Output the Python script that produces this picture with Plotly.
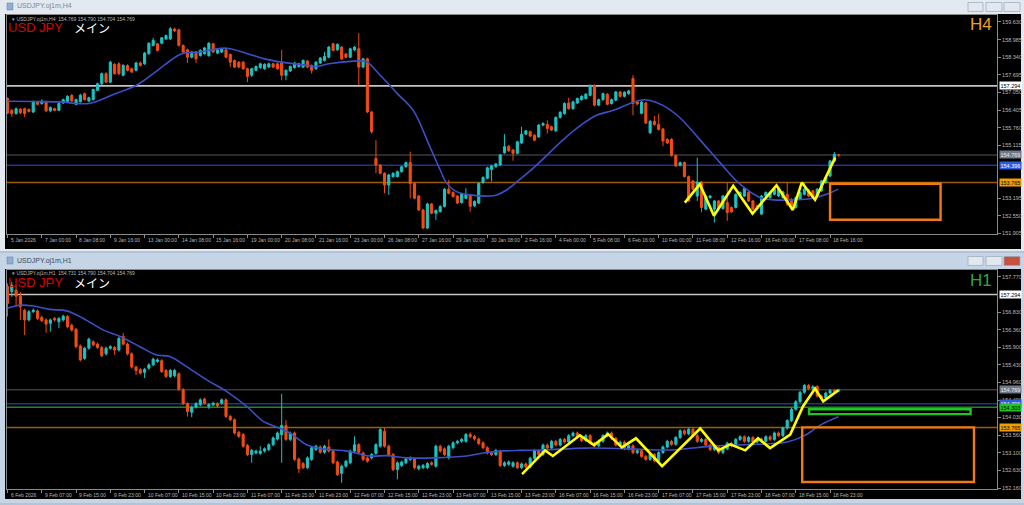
import plotly.graph_objects as go

W, H = 1024, 505

# ---------------- H4 (top window) candles ----------------
h4_open = [156.83,156.40,156.28,156.44,156.46,156.43,156.34,156.71,156.65,156.71,
156.38,156.46,156.40,156.67,156.71,156.95,156.62,156.71,157.01,156.74,
156.79,157.13,157.37,157.74,157.43,158.08,158.10,157.68,158.04,157.92,
157.86,158.13,158.10,158.47,158.77,158.83,158.85,159.01,159.01,159.37,
159.34,158.77,158.61,158.34,158.53,158.40,158.47,158.40,158.83,158.49,
158.53,158.61,158.44,158.22,158.16,158.16,157.92,157.68,157.86,157.96,
157.92,157.98,158.10,158.10,158.13,157.68,157.84,157.96,158.00,157.98,
158.20,158.04,157.92,158.13,158.22,158.34,158.83,158.61,158.71,158.46,
158.34,158.61,158.65,157.98,158.28,156.34,154.64,154.40,154.10,153.67,
153.98,153.98,154.16,154.34,154.49,153.73,153.27,152.76,152.10,152.98,
152.64,152.70,152.89,153.52,153.40,153.27,153.03,153.19,153.31,152.91,
153.01,153.76,153.92,154.24,154.34,154.40,154.85,155.09,154.95,154.83,
155.21,155.53,155.62,155.49,155.43,155.86,155.88,155.80,155.65,156.14,
156.28,156.67,156.46,156.67,156.79,156.83,156.95,157.31,156.59,156.79,
156.99,156.65,156.77,157.07,156.91,157.01,157.56,156.71,156.29,156.67,
155.58,156.00,155.88,155.72,155.34,155.34,154.75,154.39,154.49,153.98,
153.82,153.27,153.78,152.79,153.21,152.79,153.09,152.81,153.03,152.85,
152.85,153.30,153.27,153.40,153.09,152.91,152.61,153.27,153.21,153.33,
153.27,153.21,153.33,153.15,152.85,153.15,153.33,153.49,153.46,153.27,
153.46,153.76,154.00,154.55,154.769]
h4_high = [156.87,156.45,156.50,156.48,156.50,156.47,156.76,156.74,156.80,156.75,
156.54,156.50,156.69,156.83,156.95,156.99,156.83,157.00,157.05,156.90,
157.19,157.41,157.78,157.79,158.21,158.13,158.16,158.09,158.08,157.96,
158.17,158.18,158.53,158.89,159.05,158.87,159.08,159.17,159.44,159.42,
159.38,158.81,158.65,158.57,158.57,158.63,158.72,158.89,158.87,158.65,
158.69,158.65,158.48,158.26,158.20,158.20,157.96,157.96,158.04,158.14,
158.12,158.14,158.14,158.14,158.61,157.90,158.04,158.17,158.14,158.26,
158.24,158.08,158.20,158.35,158.53,158.75,158.87,158.85,158.75,158.50,
158.69,158.75,159.22,158.32,158.32,156.38,155.31,154.44,154.14,154.08,
154.14,154.20,154.38,154.53,154.89,153.77,153.31,152.80,153.02,153.02,
152.78,152.93,153.56,153.86,153.44,153.31,153.39,153.55,153.35,153.11,
153.77,153.99,154.34,154.41,154.48,154.81,155.53,155.13,154.99,155.29,
155.80,155.69,155.66,155.53,155.90,155.96,156.04,155.84,156.18,156.37,
156.69,156.86,156.75,156.87,156.95,157.03,157.35,157.35,156.83,157.05,
157.03,156.83,157.11,157.11,157.10,157.15,157.68,156.75,156.74,156.71,
156.04,156.19,156.28,155.76,155.38,155.38,154.79,154.53,154.53,154.02,
153.86,154.67,153.82,153.31,153.31,153.13,153.13,153.31,153.76,152.89,
153.37,153.44,153.58,153.44,153.13,152.95,153.31,153.44,153.44,153.56,
153.56,153.46,153.76,153.19,153.25,153.44,153.76,153.53,153.50,153.56,
153.86,153.98,154.59,154.88,154.790]
h4_low = [156.26,156.16,156.24,156.26,156.16,156.32,156.30,156.58,156.60,156.34,
156.33,156.36,156.37,156.63,156.68,156.70,156.58,156.68,156.76,156.70,
156.76,157.10,157.33,157.40,157.39,157.70,157.68,157.64,157.82,157.76,
157.82,158.00,158.06,158.43,158.73,158.55,158.81,158.97,158.97,159.26,
158.73,158.49,158.13,158.30,158.13,158.36,158.43,158.36,158.49,158.45,
158.49,158.30,157.98,157.94,157.94,157.88,157.43,157.62,157.82,157.92,
157.88,157.94,157.94,157.88,157.50,157.50,157.80,157.92,157.96,157.94,
157.94,157.74,157.88,158.09,158.18,158.30,158.55,158.57,158.24,158.30,
158.30,158.57,157.31,157.94,156.30,155.55,154.10,154.06,153.37,153.31,
153.94,153.94,154.12,154.30,153.19,153.15,152.72,152.06,152.06,152.60,
152.40,152.66,152.85,153.33,153.21,152.97,152.99,153.15,152.70,152.87,
152.97,153.72,153.88,153.80,154.30,154.36,154.81,154.88,154.56,154.79,
155.17,155.49,155.42,155.27,155.39,155.82,155.55,155.64,155.61,156.10,
156.24,156.42,156.42,156.63,156.75,156.79,156.91,156.55,156.55,156.75,
156.58,156.61,156.73,156.87,156.87,156.97,156.22,156.59,156.25,155.90,
155.54,155.84,155.66,155.09,155.17,154.71,154.33,154.35,153.94,153.05,
153.48,153.09,152.67,152.75,153.17,152.30,152.81,152.77,152.36,152.65,
152.81,153.26,153.23,153.05,152.75,152.77,152.57,153.23,153.17,153.29,
153.23,153.17,152.91,152.87,152.81,153.11,153.29,153.23,153.17,153.23,
153.42,153.72,153.96,154.51,154.704]
h4_close = [156.30,156.28,156.46,156.31,156.28,156.36,156.71,156.62,156.74,156.38,
156.50,156.40,156.65,156.79,156.91,156.74,156.79,156.95,156.79,156.86,
157.16,157.37,157.74,157.43,158.16,157.74,157.74,158.04,157.86,157.80,
158.13,158.04,158.49,158.85,158.95,158.59,159.05,159.13,159.38,159.30,
158.77,158.53,158.34,158.53,158.28,158.59,158.68,158.85,158.53,158.61,
158.65,158.34,158.16,157.98,157.98,157.92,157.64,157.92,158.00,158.10,
158.08,158.10,157.98,157.92,157.68,157.86,158.00,158.13,158.10,158.22,
157.98,157.86,158.16,158.31,158.37,158.71,158.59,158.81,158.28,158.34,
158.65,158.71,157.98,158.28,156.34,155.62,154.40,154.10,153.67,154.04,
154.10,154.16,154.34,154.49,153.73,153.19,152.76,152.10,152.98,152.64,
152.74,152.89,153.52,153.37,153.25,153.01,153.35,153.31,152.89,153.07,
153.73,153.95,154.30,154.37,154.44,154.77,155.07,154.92,154.83,155.25,
155.53,155.65,155.46,155.31,155.86,155.92,155.74,155.68,156.14,156.33,
156.65,156.46,156.71,156.83,156.91,156.99,157.31,156.59,156.79,157.01,
156.62,156.79,157.07,156.91,157.06,157.11,156.65,156.63,156.70,155.94,
156.00,155.88,155.70,155.28,155.21,154.75,154.37,154.49,153.98,153.09,
153.52,153.78,152.85,153.27,153.27,153.09,152.85,153.27,152.67,152.69,
153.33,153.40,153.54,153.09,152.79,152.81,153.27,153.40,153.40,153.52,
153.52,153.42,152.97,152.91,153.21,153.40,153.52,153.27,153.21,153.52,
153.82,153.94,154.55,154.79,154.769]

h4_ma_idx = [0,6,12,19,25,30,34,37,40.7,45,51,56,60,64,70,72,75,80,83,84,87,91,94.7,
             98.6,101,102.5,104.8,108,112.6,114.2,116.5,119,123.5,129.8,134.4,137.5,141.4,
             145.3,148,150,153,157,161.6,166.3,171,175.7,178.8,183.4,188.1,191.2,193.9]
h4_ma_val = [156.73,156.72,156.71,156.65,157.00,157.31,157.74,158.10,158.47,158.53,158.67,
             158.47,158.28,158.16,158.04,158.00,158.10,158.19,158.20,158.16,157.68,157.01,
             156.40,155.07,154.22,153.74,153.43,153.31,153.27,153.31,153.49,153.80,154.40,
             155.34,155.92,156.22,156.40,156.65,156.78,156.76,156.58,156.12,155.33,154.49,
             153.70,153.21,153.13,153.13,153.19,153.33,153.52]

h4_zig_idx = [158.1,161.6,164.9,169.4,173.9,179.5,183.3,185.4,188.5,193.2]
h4_zig_val = [153.03,153.70,152.55,153.64,152.63,153.66,152.76,153.76,153.13,154.67]

h4_box = dict(i0=192.0, i1=217.8, p0=152.40, p1=153.72)

h4_tick_vals = [159.630,158.985,158.340,157.695,157.050,156.405,155.760,155.115,153.195,152.550,151.905]
h4_time_labels = ["5 Jan 2026","7 Jan 00:00","8 Jan 08:00","9 Jan 16:00","13 Jan 00:00","14 Jan 08:00",
                  "15 Jan 16:00","19 Jan 00:00","20 Jan 08:00","21 Jan 16:00","23 Jan 00:00","26 Jan 08:00",
                  "27 Jan 16:00","29 Jan 00:00","30 Jan 08:00","2 Feb 16:00","4 Feb 00:00","5 Feb 08:00",
                  "6 Feb 16:00","10 Feb 00:00","11 Feb 08:00","12 Feb 16:00","16 Feb 00:00","17 Feb 08:00",
                  "18 Feb 16:00"]

# ---------------- H1 (bottom window) candles ----------------
h1_open = [157.51,157.37,157.41,157.25,156.88,156.62,156.84,156.86,156.69,156.62,
156.53,156.66,156.57,156.62,156.71,156.48,156.37,155.93,155.60,155.87,
156.04,155.98,155.89,155.72,155.87,155.89,155.82,156.18,155.98,155.72,
155.37,155.30,155.23,155.34,155.43,155.52,155.54,155.28,155.12,155.14,
155.19,154.77,154.40,154.17,154.31,154.37,154.52,154.33,154.37,154.40,
154.41,154.50,154.06,153.97,153.64,153.58,153.29,153.05,153.09,153.08,
153.14,153.18,153.31,153.46,153.58,153.82,153.45,153.62,152.93,152.81,
152.70,152.92,153.18,153.25,153.11,153.25,153.14,152.85,152.55,152.74,
152.83,153.14,153.31,153.09,152.96,152.96,153.08,153.27,153.66,153.27,
153.05,152.65,152.76,152.83,152.92,152.93,152.67,152.70,152.70,152.83,
152.74,153.27,153.20,152.96,153.23,153.36,153.40,153.40,153.58,153.53,
153.46,153.36,153.23,153.09,153.05,153.14,152.76,152.79,152.74,152.83,
152.70,152.80,152.72,152.95,153.15,153.05,153.30,153.22,153.40,153.30,
153.45,153.38,153.55,153.62,153.50,153.42,153.55,153.35,153.28,153.40,
153.55,153.62,153.48,153.30,153.38,153.20,153.28,153.10,153.15,153.00,
152.92,153.05,152.88,153.10,153.25,153.40,153.32,153.50,153.68,153.60,
153.72,153.55,153.40,153.45,153.30,153.18,153.25,153.10,153.20,153.35,
153.28,153.45,153.52,153.40,153.50,153.38,153.46,153.40,153.52,153.45,
153.62,153.55,153.75,153.95,154.25,154.45,154.70,154.88,154.80,154.85,
154.60,154.55,154.68,154.75,154.731]
h1_high = [157.59,157.63,157.54,157.36,156.92,156.88,156.92,156.90,156.73,156.66,
156.66,156.70,156.70,156.76,156.75,156.52,156.41,155.97,155.91,156.15,
156.08,156.02,155.93,155.91,155.95,155.93,156.17,156.28,156.02,155.76,
155.41,155.34,155.35,155.47,155.62,155.60,155.58,155.32,155.32,155.32,
155.23,154.81,154.44,154.35,154.44,154.54,154.56,154.41,154.45,154.44,
154.54,154.54,154.10,154.01,153.68,153.62,153.33,153.20,153.18,153.27,
153.24,153.35,153.53,153.66,154.66,153.96,153.66,153.66,152.97,152.85,
153.00,153.27,153.31,153.29,153.31,153.45,153.18,152.89,152.78,152.91,
153.18,153.53,153.35,153.13,153.00,153.09,153.35,153.75,153.75,153.31,
153.09,152.87,152.89,152.97,153.00,152.97,152.78,152.80,152.85,152.87,
153.31,153.31,153.24,153.31,153.40,153.44,153.49,153.62,153.64,153.57,
153.50,153.40,153.27,153.13,153.20,153.18,152.87,152.89,152.87,152.87,
152.84,152.84,152.99,153.19,153.19,153.34,153.34,153.44,153.44,153.49,
153.49,153.59,153.66,153.66,153.54,153.59,153.59,153.39,153.44,153.59,
153.66,153.66,153.52,153.42,153.42,153.32,153.32,153.19,153.19,153.04,
153.09,153.09,153.14,153.29,153.44,153.44,153.54,153.72,153.72,153.76,
153.76,153.59,153.49,153.49,153.34,153.29,153.29,153.24,153.39,153.39,
153.49,153.56,153.56,153.54,153.54,153.50,153.50,153.56,153.56,153.66,
153.66,153.79,153.99,154.29,154.49,154.74,154.92,154.92,154.89,154.89,
154.64,154.72,154.79,154.79,154.790]
h1_low = [156.71,157.23,156.97,156.62,156.22,156.58,156.80,156.62,156.56,156.28,
156.31,156.58,156.40,156.58,156.40,156.31,155.87,155.52,155.56,155.83,
155.92,155.85,155.63,155.68,155.83,155.69,155.78,155.94,155.68,155.33,
155.16,155.17,155.08,155.30,155.39,155.48,155.21,155.08,155.08,155.10,
154.74,154.36,154.06,154.04,154.27,154.33,154.37,154.26,154.33,154.30,
154.37,154.02,153.93,153.58,153.49,153.23,153.01,152.83,153.05,153.04,
153.10,153.14,153.27,153.42,152.83,153.41,153.41,152.88,152.56,152.66,
152.66,152.88,153.14,153.07,153.07,153.10,152.79,152.48,152.30,152.70,
152.79,153.10,153.07,152.88,152.83,152.92,153.04,153.23,153.23,153.01,
152.61,152.39,152.72,152.79,152.88,152.66,152.63,152.66,152.66,152.75,
152.70,153.10,153.01,152.92,153.19,153.32,153.36,153.36,153.48,153.42,
153.30,153.19,153.05,153.01,153.01,152.72,152.72,152.75,152.70,152.66,
152.66,152.68,152.68,152.91,153.01,153.01,153.18,153.18,153.26,153.26,
153.34,153.34,153.51,153.46,153.38,153.38,153.31,153.24,153.24,153.36,
153.51,153.44,153.26,153.26,153.16,153.16,153.06,153.06,152.96,152.88,
152.88,152.84,152.84,153.06,153.21,153.28,153.28,153.46,153.56,153.56,
153.51,153.36,153.36,153.26,153.14,153.14,153.06,153.06,153.16,153.24,
153.24,153.41,153.36,153.36,153.34,153.34,153.36,153.36,153.41,153.41,
153.51,153.51,153.71,153.91,154.21,154.41,154.66,154.76,154.76,154.56,
154.51,154.51,154.64,154.69,154.704]
h1_close = [157.06,157.54,157.25,156.97,156.62,156.84,156.88,156.66,156.60,156.51,
156.62,156.62,156.66,156.72,156.44,156.35,155.91,155.56,155.87,156.11,
155.96,155.89,155.67,155.87,155.91,155.82,156.13,155.98,155.72,155.37,
155.28,155.21,155.31,155.43,155.58,155.56,155.25,155.12,155.28,155.28,
154.78,154.40,154.19,154.31,154.40,154.50,154.41,154.37,154.41,154.34,
154.50,154.06,153.97,153.62,153.53,153.27,153.05,153.16,153.14,153.14,
153.20,153.31,153.49,153.62,153.82,153.45,153.62,152.92,152.67,152.70,
152.96,153.23,153.27,153.11,153.27,153.14,152.83,152.52,152.74,152.87,
153.14,153.31,153.11,152.92,152.87,153.05,153.31,153.71,153.27,153.05,
152.65,152.83,152.85,152.93,152.96,152.70,152.74,152.76,152.81,152.79,
153.27,153.14,153.05,153.27,153.36,153.40,153.45,153.58,153.52,153.46,
153.34,153.23,153.09,153.05,153.16,152.76,152.83,152.85,152.83,152.70,
152.80,152.72,152.95,153.15,153.05,153.30,153.22,153.40,153.30,153.45,
153.38,153.55,153.62,153.50,153.42,153.55,153.35,153.28,153.40,153.55,
153.62,153.48,153.30,153.38,153.20,153.28,153.10,153.15,153.00,152.92,
153.05,152.88,153.10,153.25,153.40,153.32,153.50,153.68,153.60,153.72,
153.55,153.40,153.45,153.30,153.18,153.25,153.10,153.20,153.35,153.28,
153.45,153.52,153.40,153.50,153.38,153.46,153.40,153.52,153.45,153.62,
153.55,153.75,153.95,154.25,154.45,154.70,154.88,154.80,154.85,154.60,
154.55,154.68,154.75,154.73,154.769]

h1_ma_idx = [0,2.9,6,9.9,13.8,17.7,22.4,26.3,30.9,34.8,37.9,41.8,46.5,51.2,55.8,59.7,62.8,
             65.9,69.8,73.7,79.2,84.6,88.5,93.2,99.4,107.2,111.1,115,119.6,125,135,145,155,
             165,175,182,186,190,194]
h1_ma_val = [156.93,157.01,156.99,156.90,156.86,156.66,156.35,156.18,155.91,155.69,155.65,
             155.38,155.03,154.72,154.33,153.93,153.78,153.62,153.31,153.20,153.14,153.01,
             153.02,152.96,152.96,153.01,153.09,153.14,153.16,153.17,153.22,153.20,153.17,
             153.28,153.32,153.38,153.55,153.85,154.05]

h1_zig_idx = [120.1,125.5,127.3,133.6,136.9,140.2,143.4,146.7,152.8,161.7,165.9,168.7,172.2,
              175.2,178.0,182.7,185.7,188.5,190.4,193.9]
h1_zig_val = [152.53,153.16,153.01,153.56,153.30,153.59,153.24,153.48,152.74,153.74,153.16,
              153.32,153.16,153.48,153.22,153.58,154.33,154.80,154.46,154.75]

h1_orange_box = dict(i0=185.5, i1=225.6, p0=152.32, p1=153.77)
h1_green_box = dict(i0=187.1, i1=224.8, p0=154.12, p1=154.25)

h1_tick_vals = [157.770,156.830,156.360,155.900,155.430,154.960,154.490,154.030,153.560,153.100,152.630,152.160]
h1_time_labels = ["6 Feb 2026","9 Feb 07:00","9 Feb 15:00","9 Feb 23:00","10 Feb 07:00","10 Feb 15:00",
                  "10 Feb 23:00","11 Feb 07:00","11 Feb 15:00","11 Feb 23:00","12 Feb 07:00","12 Feb 15:00",
                  "12 Feb 23:00","13 Feb 07:00","13 Feb 15:00","13 Feb 23:00","16 Feb 07:00","16 Feb 15:00",
                  "16 Feb 23:00","17 Feb 07:00","17 Feb 15:00","17 Feb 23:00","18 Feb 07:00","18 Feb 15:00",
                  "18 Feb 23:00"]

# horizontal price levels
level_white = 157.294
level_bid = 154.769
level_blue = 154.396
level_orange = 153.765
level_green = 154.303

# ---------------- styling ----------------
BULL = '#1cc4c4'
BEAR = '#f24c12'
MA_C = '#3b50c6'
FRAME = '#8a8a8a'
TXT = '#b8b8b8'
LBL_FONT = 'Liberation Sans'


def fx(px):
    return px / W


def fy(py):
    return 1 - py / H


fig = go.Figure()


def add_panel(xa, ya, o, h, l, c, ma_i, ma_v, zig_i, zig_v):
    n = len(o)
    fig.add_trace(go.Candlestick(
        x=list(range(n)), open=o, high=h, low=l, close=c,
        increasing=dict(line=dict(color=BULL, width=1), fillcolor=BULL),
        decreasing=dict(line=dict(color=BEAR, width=1), fillcolor=BEAR),
        whiskerwidth=0, xaxis=xa, yaxis=ya, showlegend=False, hoverinfo='skip'))
    fig.add_trace(go.Scatter(x=ma_i, y=ma_v, mode='lines', xaxis=xa, yaxis=ya,
                             line=dict(color=MA_C, width=1.6, shape='spline', smoothing=1.0),
                             showlegend=False, hoverinfo='skip'))
    fig.add_trace(go.Scatter(x=zig_i, y=zig_v, mode='lines', xaxis=xa, yaxis=ya,
                             line=dict(color='#ffff00', width=2.6),
                             showlegend=False, hoverinfo='skip'))


add_panel('x', 'y', h4_open, h4_high, h4_low, h4_close, h4_ma_idx, h4_ma_val, h4_zig_idx, h4_zig_val)
add_panel('x2', 'y2', h1_open, h1_high, h1_low, h1_close, h1_ma_idx, h1_ma_val, h1_zig_idx, h1_zig_val)

shapes = []
# window frames
shapes.append(dict(type='rect', xref='paper', yref='paper', x0=0, x1=1, y0=fy(252), y1=1,
                   fillcolor='#e3e9f0', line=dict(width=0), layer='below'))
shapes.append(dict(type='rect', xref='paper', yref='paper', x0=0, x1=1, y0=0, y1=fy(254),
                   fillcolor='#c6d5e5', line=dict(width=0), layer='below'))
# black chart areas
shapes.append(dict(type='rect', xref='paper', yref='paper', x0=fx(5), x1=fx(1021), y0=fy(250), y1=fy(14),
                   fillcolor='#000000', line=dict(width=0), layer='below'))
shapes.append(dict(type='rect', xref='paper', yref='paper', x0=fx(5), x1=fx(1021), y0=fy(501), y1=fy(270),
                   fillcolor='#000000', line=dict(width=0), layer='below'))
# title bar icons
for ty in (3, 258):
    shapes.append(dict(type='rect', xref='paper', yref='paper', x0=fx(7), x1=fx(13), y0=fy(ty + 7), y1=fy(ty),
                       fillcolor='#8fb0d4', line=dict(color='#5f7fa5', width=0.5), layer='below'))
# window buttons
for ty, active in ((2.5, False), (257.5, True)):
    for k, (bx0, bx1) in enumerate(((968, 983), (986, 1002), (1004, 1020))):
        fill = '#c8503e' if (active and k == 2) else '#e2e8ef'
        shapes.append(dict(type='rect', xref='paper', yref='paper', x0=fx(bx0), x1=fx(bx1),
                           y0=fy(ty + 9), y1=fy(ty), fillcolor=fill,
                           line=dict(color='#98a6b6', width=0.7), layer='below'))


def hline(yref, val, color, width=1.4):
    xr = 'x domain' if yref == 'y' else 'x2 domain'
    return dict(type='line', xref=xr, yref=yref, x0=0, x1=1, y0=val, y1=val,
                line=dict(color=color, width=width), layer='below')


for yr in ('y', 'y2'):
    shapes.append(hline(yr, level_white, '#c4c4c4', 1.6))
    shapes.append(hline(yr, level_bid, '#3a3a3a', 1.4))
    shapes.append(hline(yr, level_blue, '#22358c', 1.4))
    shapes.append(hline(yr, level_orange, '#9c5c0c', 1.4))
shapes.append(hline('y2', level_green, '#1e8a1e', 1.4))

# drawn boxes
shapes.append(dict(type='rect', xref='x', yref='y', x0=h4_box['i0'], x1=h4_box['i1'],
                   y0=h4_box['p0'], y1=h4_box['p1'], line=dict(color='#f27a12', width=2.4)))
shapes.append(dict(type='rect', xref='x2', yref='y2', x0=h1_orange_box['i0'], x1=h1_orange_box['i1'],
                   y0=h1_orange_box['p0'], y1=h1_orange_box['p1'], line=dict(color='#f27a12', width=2.4)))
shapes.append(dict(type='rect', xref='x2', yref='y2', x0=h1_green_box['i0'], x1=h1_green_box['i1'],
                   y0=h1_green_box['p0'], y1=h1_green_box['p1'], line=dict(color='#22c422', width=2.4)))

ann = []
# window titles
ann.append(dict(x=fx(15), y=fy(6.5), xref='paper', yref='paper', text='USDJPY.oj1m,H4', showarrow=False,
                xanchor='left', yanchor='middle', font=dict(family=LBL_FONT, size=7, color='#7b8696')))
ann.append(dict(x=fx(15), y=fy(262.5), xref='paper', yref='paper', text='USDJPY.oj1m,H1', showarrow=False,
                xanchor='left', yanchor='middle', font=dict(family=LBL_FONT, size=7, color='#3b4656')))
# in-chart info lines
ann.append(dict(x=fx(10), y=fy(19.5), xref='paper', yref='paper',
                text='▾ USDJPY.oj1m,H4  154.769 154.790 154.704 154.769', showarrow=False,
                xanchor='left', yanchor='middle', font=dict(family=LBL_FONT, size=5, color=TXT)))
ann.append(dict(x=fx(10), y=fy(274.5), xref='paper', yref='paper',
                text='▾ USDJPY.oj1m,H1  154.731 154.790 154.704 154.769', showarrow=False,
                xanchor='left', yanchor='middle', font=dict(family=LBL_FONT, size=5, color=TXT)))
for cy in (28, 283.5):
    ann.append(dict(x=fx(6), y=fy(cy), xref='paper', yref='paper', text='USD JPY', showarrow=False,
                    xanchor='left', yanchor='middle', font=dict(family=LBL_FONT, size=13, color='#d80000')))
    ann.append(dict(x=fx(72), y=fy(cy), xref='paper', yref='paper', text='メイン', showarrow=False,
                    xanchor='left', yanchor='middle', font=dict(family='Noto Sans CJK JP', size=12, color='#ffffff')))
ann.append(dict(x=fx(994), y=fy(25), xref='paper', yref='paper', text='H4', showarrow=False,
                xanchor='right', yanchor='middle', font=dict(family=LBL_FONT, size=17, color='#eea21c')))
ann.append(dict(x=fx(994), y=fy(281.5), xref='paper', yref='paper', text='H1', showarrow=False,
                xanchor='right', yanchor='middle', font=dict(family=LBL_FONT, size=17, color='#2ea44e')))

# time labels
for xr, ylab, labels in (('x', 241, h4_time_labels), ('x2', 497, h1_time_labels)):
    for k, t in enumerate(labels):
        ann.append(dict(x=k * 8 + 0.3, y=fy(ylab), xref=xr, yref='paper', text=t, showarrow=False,
                        xanchor='left', yanchor='middle', font=dict(family=LBL_FONT, size=5, color=TXT)))


# price tags on axis
def tag(yref, val, bg, fg):
    return dict(x=fx(998.5), y=val, xref='paper', yref=yref, text=f'{val:.3f}', showarrow=False,
                xanchor='left', yanchor='middle', bgcolor=bg, borderpad=0.5,
                font=dict(family=LBL_FONT, size=5.5, color=fg))


for yr in ('y', 'y2'):
    ann.append(tag(yr, level_white, '#ffffff', '#000000'))
    ann.append(tag(yr, level_bid, '#6f7b88', '#e8e8e8'))
    ann.append(tag(yr, level_blue, '#2c5ae0', '#ffffff'))
    ann.append(tag(yr, level_orange, '#eea000', '#000000'))
ann.append(tag('y2', level_green, '#22c422', '#000000'))

xcommon = dict(showgrid=False, zeroline=False, showline=True, mirror=True, linecolor=FRAME, linewidth=1,
               ticks='outside', ticklen=3, tickcolor=FRAME, showticklabels=False,
               rangeslider=dict(visible=False), fixedrange=True)
ycommon = dict(showgrid=False, zeroline=False, showline=True, mirror=True, linecolor=FRAME, linewidth=1,
               side='right', ticks='outside', ticklen=3, tickcolor=FRAME,
               tickfont=dict(family=LBL_FONT, size=5.5, color=TXT), fixedrange=True)

fig.update_layout(
    width=W, height=H, margin=dict(l=0, r=0, t=0, b=0),
    paper_bgcolor='#b3c4d7', plot_bgcolor='#000000', showlegend=False,
    xaxis=dict(xcommon, domain=[fx(7), fx(997)], range=[-0.12, 230.97], anchor='y',
               tickvals=[k * 8 for k in range(len(h4_time_labels))]),
    yaxis=dict(ycommon, domain=[fy(235), fy(15)], range=[151.879, 159.885], anchor='x',
               tickvals=h4_tick_vals, ticktext=[f'{v:.3f}' for v in h4_tick_vals]),
    xaxis2=dict(xcommon, domain=[fx(7), fx(997)], range=[-0.12, 230.97], anchor='y2',
                tickvals=[k * 8 for k in range(len(h1_time_labels))]),
    yaxis2=dict(ycommon, domain=[fy(491), fy(271)], range=[152.133, 157.947], anchor='x2',
                tickvals=h1_tick_vals, ticktext=[f'{v:.3f}' for v in h1_tick_vals]),
    shapes=shapes, annotations=ann,
)

fig.write_html("out.html", config={'displayModeBar': False},
               post_script="document.body.style.margin='0';document.body.style.overflow='hidden';")
